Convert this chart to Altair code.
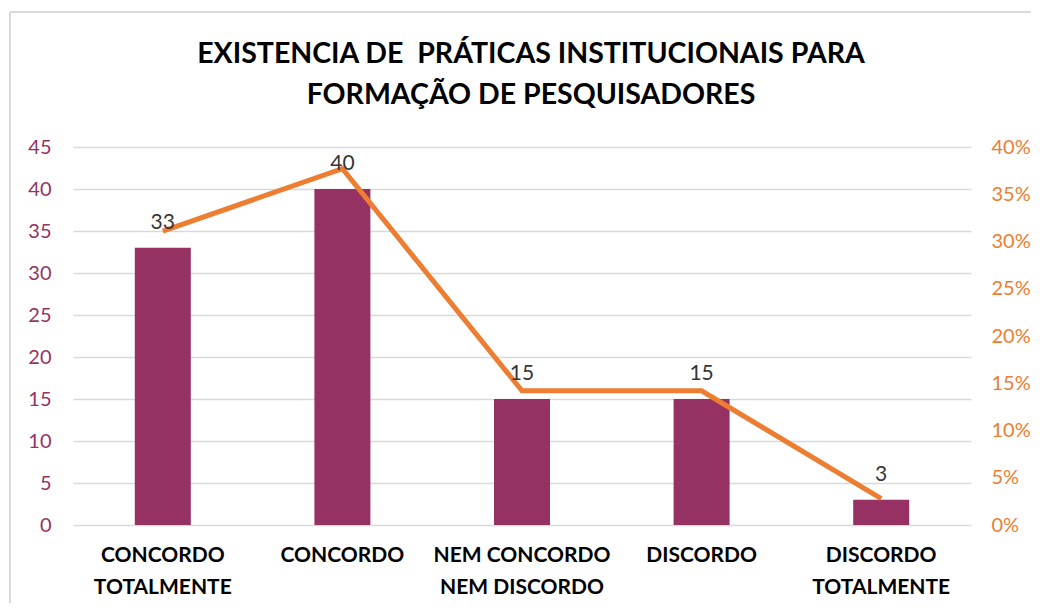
import altair as alt
import pandas as pd

categories = ["CONCORDO\nTOTALMENTE", "CONCORDO", "NEM CONCORDO\nNEM DISCORDO", "DISCORDO", "DISCORDO\nTOTALMENTE"]
counts = [33, 40, 15, 15, 3]
percents = [0.311, 0.377, 0.142, 0.142, 0.028]
title_lines = ["EXISTENCIA DE \u00a0PRÁTICAS INSTITUCIONAIS PARA", "FORMAÇÃO DE PESQUISADORES"]

df = pd.DataFrame({"cat": categories, "count": counts, "pct": percents})

FONT = "Lato"
BAR = "#963263"
ORANGE = "#ED7D31"

x = alt.X("cat:N", sort=categories, title=None,
          scale=alt.Scale(paddingInner=0, paddingOuter=0),
          axis=alt.Axis(labelAngle=0, labelExpr="split(datum.label, '\\n')",
                        labelFont=FONT, labelFontSize=21, labelFontWeight="bold",
                        labelColor="#000000", labelPadding=19, labelLineHeight=32,
                        domain=False, ticks=False, grid=False))

bars = alt.Chart(df).mark_bar(color=BAR, size=56).encode(
    x=x,
    y=alt.Y("count:Q", title=None,
            scale=alt.Scale(domain=[0, 45], nice=False),
            axis=alt.Axis(values=list(range(0, 46, 5)), labelFont=FONT, labelFontSize=20,
                          labelColor=BAR, labelPadding=22, domain=False, ticks=False,
                          gridColor="#D9D9D9", gridWidth=1.5, orient="left")),
)

line = alt.Chart(df).mark_line(color=ORANGE, strokeWidth=5).encode(
    x=alt.X("cat:N", sort=categories),
    y=alt.Y("pct:Q", title=None,
            scale=alt.Scale(domain=[0, 0.4], nice=False),
            axis=alt.Axis(values=[i * 0.05 for i in range(9)], format=".0%",
                          labelFont=FONT, labelFontSize=20, labelColor=ORANGE,
                          labelPadding=20, domain=False, ticks=False, grid=False,
                          orient="right")),
)

labels = alt.Chart(df).mark_text(font=FONT, fontSize=21, color="#363636",
                                 baseline="alphabetic", dy=-19).encode(
    x=alt.X("cat:N", sort=categories),
    y=alt.Y("count:Q", scale=alt.Scale(domain=[0, 45], nice=False), axis=None),
    text="count:Q",
)

frame_v = alt.Chart(df).mark_rule(color="#D9D9D9", strokeWidth=2).encode(
    x=alt.value(-63), y=alt.value(-135), y2=alt.value(480))
frame_h = alt.Chart(df).mark_rule(color="#D9D9D9", strokeWidth=2).encode(
    x=alt.value(-63), x2=alt.value(1100), y=alt.value(-135))

chart = alt.layer(frame_v, frame_h, bars, line, labels).resolve_scale(y="independent").properties(
    width=898, height=378,
    background="white",
    autosize=alt.AutoSizeParams(type="none"),
    padding={"left": 65, "top": 139, "right": 60, "bottom": 78},
    title=alt.TitleParams(title_lines,
                          font=FONT, fontSize=28.5, fontWeight="bold", color="#000000",
                          anchor="middle", lineHeight=41, offset=0, dx=9, dy=98),
).configure_view(strokeWidth=0, stroke="transparent").configure_axis(
    domain=False, ticks=False
)

chart.save("out.html", embed_options={"renderer": "svg", "actions": False})
